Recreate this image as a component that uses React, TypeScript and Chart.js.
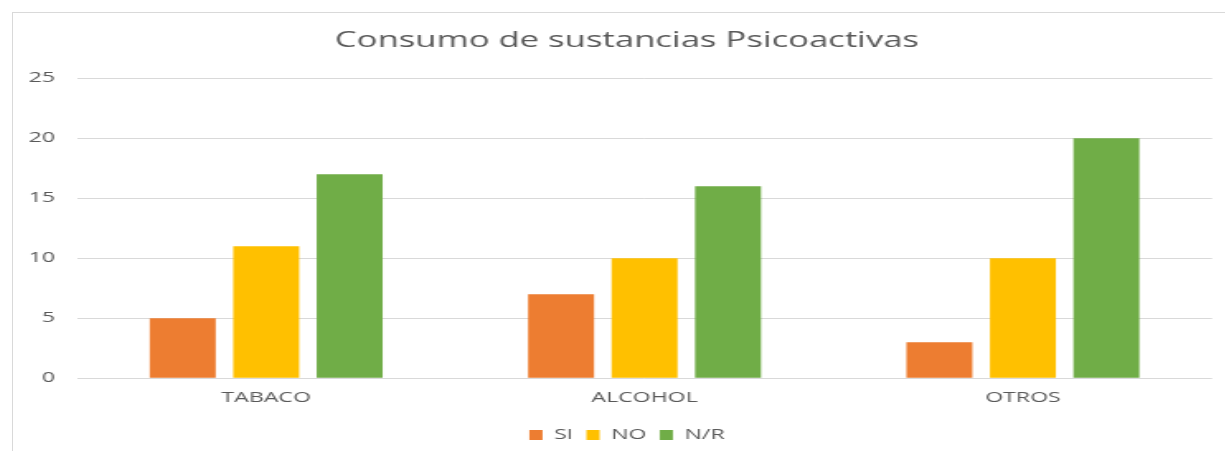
import React, { useEffect, useRef } from "react";
import { Chart, registerables } from "chart.js";

Chart.register(...registerables);

const categories = ["TABACO", "ALCOHOL", "OTROS"];
const siValues = [5, 7, 3];
const noValues = [11, 10, 10];
const nrValues = [17, 16, 20];
const seriesLabels = ["SI", "NO", "N/R"];
const yTicks = [0, 5, 10, 15, 20, 25];
const titleText = "Consumo de sustancias Psicoactivas";

const STRETCH = 1.65;
const CW = 740;
const CH = 450;
const FONT = "'Open Sans', sans-serif";
const TEXT = "#595959";
const CENTER_SHIFT = 8.75;

const shiftBlocks = {
  id: "shiftBlocks",
  afterLayout(chart: any) {
    const blocks = [chart.titleBlock, chart.legend];
    blocks.forEach((b: any) => {
      if (b) {
        b.left += CENTER_SHIFT;
        b.right += CENTER_SHIFT;
      }
    });
  },
};

export default function App() {
  const ref = useRef<HTMLCanvasElement | null>(null);

  useEffect(() => {
    if (!ref.current) return;
    const chart = new Chart(ref.current, {
      type: "bar",
      data: {
        labels: categories,
        datasets: [
          { label: seriesLabels[0], data: siValues, backgroundColor: "#ED7D31" },
          { label: seriesLabels[1], data: noValues, backgroundColor: "#FFC000" },
          { label: seriesLabels[2], data: nrValues, backgroundColor: "#70AD47" },
        ],
      },
      plugins: [shiftBlocks],
      options: {
        responsive: false,
        animation: false,
        devicePixelRatio: 1,
        layout: { padding: { left: 0, right: 13.3, top: 0, bottom: 11 } },
        datasets: {
          bar: { categoryPercentage: 0.662, barPercentage: 0.79 },
        },
        plugins: {
          title: {
            display: true,
            text: titleText,
            color: TEXT,
            font: { family: FONT, size: 21, weight: "normal" },
            padding: { top: 15, bottom: 25 },
          },
          legend: {
            position: "bottom",
            labels: {
              color: TEXT,
              font: { family: FONT, size: 14 },
              boxWidth: 8,
              boxHeight: 10,
              padding: 8,
            },
          },
          tooltip: { enabled: false },
        },
        scales: {
          x: {
            grid: { display: false, drawTicks: false },
            border: { display: false },
            ticks: { color: TEXT, font: { family: FONT, size: 14 }, padding: 11 },
            afterFit: (axis: any) => {
              axis.height = axis.height + 3;
            },
          },
          y: {
            min: 0,
            max: 25,
            afterBuildTicks: (axis: any) => {
              axis.ticks = yTicks.map((v) => ({ value: v }));
            },
            afterFit: (axis: any) => {
              axis.width = 38.8;
            },
            grid: { color: "#d9d9d9", lineWidth: 1, drawTicks: false },
            border: { display: false },
            ticks: { color: TEXT, font: { family: FONT, size: 14 }, padding: 13.3 },
          },
        },
      },
    });
    return () => chart.destroy();
  }, []);

  return (
    <div
      style={{
        position: "fixed",
        left: 0,
        top: 0,
        width: 1225,
        height: 451,
        overflow: "hidden",
        background: "#fff",
      }}
    >
      <div
        style={{
          position: "absolute",
          left: 12,
          top: 12,
          width: 1240,
          height: 470,
          border: "1px solid #d9d9d9",
        }}
      >
        <div
          style={{
            position: "absolute",
            left: 0,
            top: 0,
            width: CW,
            height: CH,
            transform: `scaleX(${STRETCH})`,
            transformOrigin: "0 0",
          }}
        >
          <canvas ref={ref} width={CW} height={CH} />
        </div>
      </div>
    </div>
  );
}
